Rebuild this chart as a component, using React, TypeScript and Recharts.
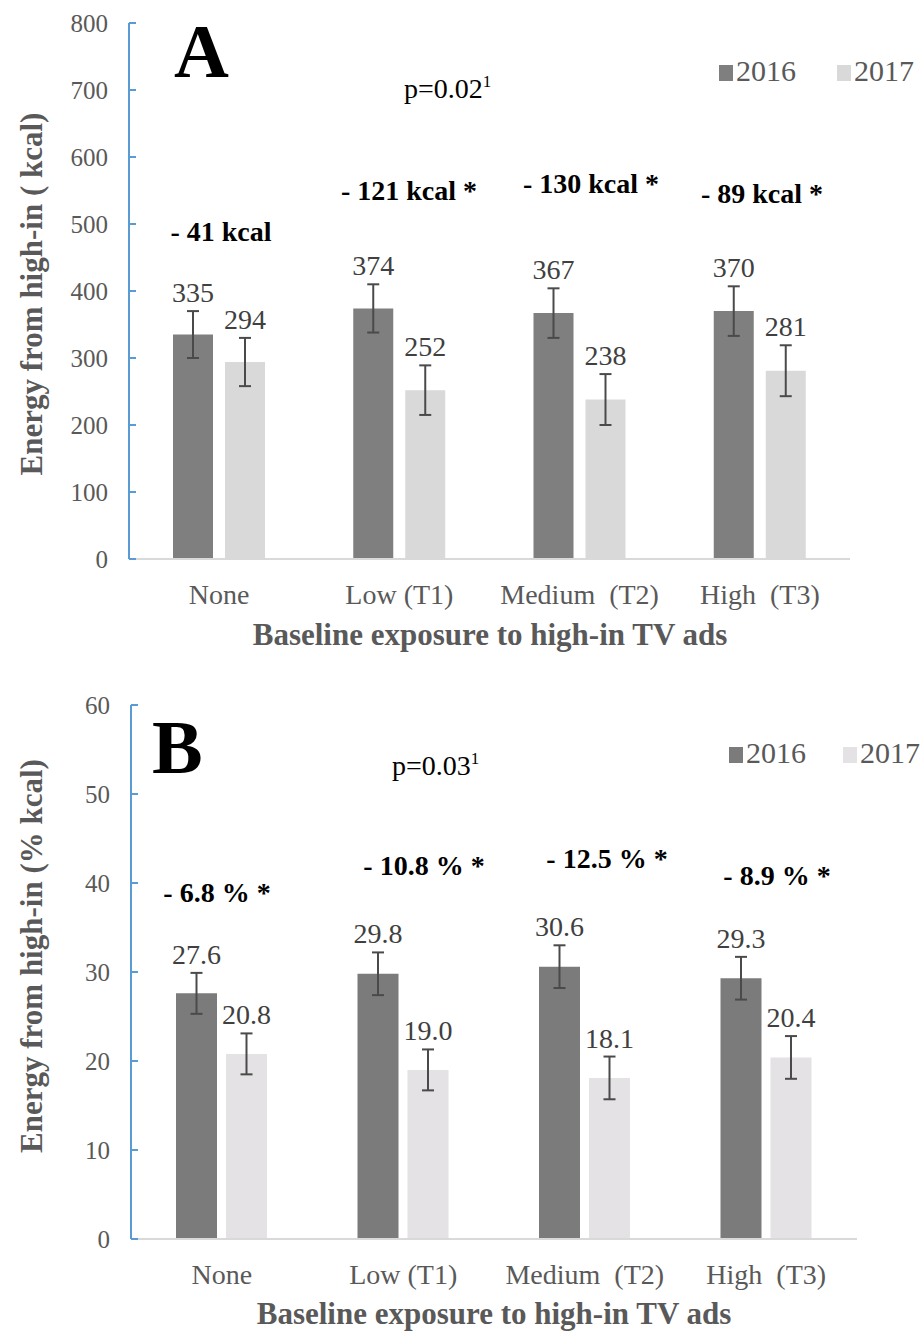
import React from 'react';
import { BarChart, Bar, XAxis, YAxis, ErrorBar, LabelList } from 'recharts';

// categories on the x axis (double spaces are in the original labels)
const categories = ['None', 'Low (T1)', 'Medium  (T2)', 'High  (T3)'];

// panel A: energy from high-in foods (kcal)
const kcal2016 = [335, 374, 367, 370];
const kcal2017 = [294, 252, 238, 281];
const kcalErr2016 = [35, 36, 37, 37];
const kcalErr2017 = [36, 37, 38, 38];
const kcalTicks = [0, 100, 200, 300, 400, 500, 600, 700, 800];
const kcalDiff = ['- 41 kcal', '- 121 kcal *', '- 130 kcal *', '- 89 kcal *'];

// panel B: energy from high-in foods (% kcal)
const pct2016 = [27.6, 29.8, 30.6, 29.3];
const pct2017 = [20.8, 19.0, 18.1, 20.4];
const pctErr2016 = [2.3, 2.4, 2.4, 2.4];
const pctErr2017 = [2.3, 2.3, 2.4, 2.4];
const pctTicks = [0, 10, 20, 30, 40, 50, 60];
const pctDiff = ['- 6.8 % *', '- 10.8 % *', '- 12.5 % *', '- 8.9 % *'];

const years = ['2016', '2017'];

const FONT = "'Liberation Serif', 'Times New Roman', serif";
const GRAY = '#595959';
const ERR = '#4a4a4a';
const AXIS_BLUE = '#5b9bd5';

const makeRows = (v16: number[], v17: number[], e16: number[], e17: number[]) =>
  categories.map((name, i) => ({ name, y2016: v16[i], y2017: v17[i], e2016: e16[i], e2017: e17[i] }));

const kcalRows = makeRows(kcal2016, kcal2017, kcalErr2016, kcalErr2017);
const pctRows = makeRows(pct2016, pct2017, pctErr2016, pctErr2017);

// value label sits just above the error bar cap
const valueLabel = (errs: number[], digits: number) => (props: any) => {
  const vb = props.viewBox && props.viewBox.width !== undefined ? props.viewBox : props;
  const { x, y, width, height } = vb;
  const value = Number(props.value);
  const idx = props.index ?? 0;
  const errPx = value ? (errs[idx] * Math.abs(height)) / value : 0;
  return (
    <text x={x + width / 2} y={y - errPx - 9} textAnchor="middle" fontSize={28} fill="#404040" fontFamily={FONT}>
      {value.toFixed(digits)}
    </text>
  );
};

const YTick = (props: any) => {
  const { x, y, payload } = props;
  const axisX = x + 21;
  return (
    <g>
      <line x1={axisX} x2={axisX + 7} y1={y} y2={y} stroke={AXIS_BLUE} strokeWidth={2} />
      <text x={x} y={y} dy="0.35em" textAnchor="end" fontSize={25} fill={GRAY} fontFamily={FONT}>
        {payload.value}
      </text>
    </g>
  );
};

const XTick = (props: any) => {
  const { x, y, payload } = props;
  return (
    <text x={x} y={y} textAnchor="middle" fontSize={28} fill={GRAY} fontFamily={FONT} style={{ whiteSpace: 'pre' }}>
      {payload.value}
    </text>
  );
};

interface PanelProps {
  rows: any[];
  top: number;
  height: number;
  margin: { top: number; right: number; left: number; bottom: number };
  yWidth: number;
  ticks: number[];
  errs16: number[];
  errs17: number[];
  digits: number;
  colors: string[];
  barSize: number;
  barGap: number;
}

const Panel: React.FC<PanelProps> = ({ rows, top, height, margin, yWidth, ticks, errs16, errs17, digits, colors, barSize, barGap }) => (
  <div style={{ position: 'absolute', left: 0, top }}>
    <BarChart width={922} height={height} data={rows} margin={margin} barSize={barSize} barGap={barGap}>
      <XAxis
        dataKey="name"
        axisLine={{ stroke: '#d9d9d9', strokeWidth: 2 }}
        tickLine={false}
        tickSize={0}
        tickMargin={45}
        height={50}
        tick={<XTick />}
        interval={0}
      />
      <YAxis
        width={yWidth}
        domain={[ticks[0], ticks[ticks.length - 1]]}
        ticks={ticks}
        interval={0}
        axisLine={{ stroke: AXIS_BLUE, strokeWidth: 2 }}
        tickLine={false}
        tickSize={0}
        tickMargin={21}
        tick={<YTick />}
      />
      <Bar dataKey="y2016" name={years[0]} fill={colors[0]} isAnimationActive={false}>
        <ErrorBar dataKey="e2016" width={6} strokeWidth={2} stroke={ERR} direction="y" isAnimationActive={false} />
        <LabelList dataKey="y2016" content={valueLabel(errs16, digits)} />
      </Bar>
      <Bar dataKey="y2017" name={years[1]} fill={colors[1]} isAnimationActive={false}>
        <ErrorBar dataKey="e2017" width={6} strokeWidth={2} stroke={ERR} direction="y" isAnimationActive={false} />
        <LabelList dataKey="y2017" content={valueLabel(errs17, digits)} />
      </Bar>
    </BarChart>
  </div>
);

// overlay text placement (centre x, baseline y)
const kcalDiffPos = [[221, 241], [409, 200], [591, 193], [762, 203]];
const pctDiffPos = [[217, 902], [424, 875], [607, 868], [777, 885]];

const Legend: React.FC<{ x: number[]; y: number; colors: string[] }> = ({ x, y, colors }) => (
  <g>
    {years.map((yr, i) => (
      <g key={yr}>
        <rect x={x[i]} y={y - 16} width={14} height={16} fill={colors[i]} />
        <text x={x[i] + 17} y={y} fontSize={30} fill={GRAY} fontFamily={FONT}>
          {yr}
        </text>
      </g>
    ))}
  </g>
);

export default function App() {
  const colorsA = ['#7f7f7f', '#d9d9d9'];
  const colorsB = ['#7b7b7b', '#e4e2e4'];
  return (
    <div style={{ position: 'absolute', left: 0, top: 0, width: 922, height: 1332, overflow: 'hidden', background: '#fff' }}>
      <Panel
        rows={kcalRows}
        top={0}
        height={680}
        margin={{ top: 23, right: 72, left: 0, bottom: 71 }}
        yWidth={129}
        ticks={kcalTicks}
        errs16={kcalErr2016}
        errs17={kcalErr2017}
        digits={0}
        colors={colorsA}
        barSize={40}
        barGap={12}
      />
      <Panel
        rows={pctRows}
        top={680}
        height={652}
        margin={{ top: 25, right: 65, left: 0, bottom: 43 }}
        yWidth={131}
        ticks={pctTicks}
        errs16={pctErr2016}
        errs17={pctErr2017}
        digits={1}
        colors={colorsB}
        barSize={41}
        barGap={9}
      />
      <svg width={922} height={1332} style={{ position: 'absolute', left: 0, top: 0, pointerEvents: 'none' }}>
        {/* panel A */}
        <text x={174} y={77} fontSize={76} fontWeight="bold" fill="#000" fontFamily={FONT}>A</text>
        <text x={404} y={98} fontSize={28} fill="#000" fontFamily={FONT}>
          p=0.02<tspan fontSize={17} dy={-11}>1</tspan>
        </text>
        {kcalDiff.map((t, i) => (
          <text key={t} x={kcalDiffPos[i][0]} y={kcalDiffPos[i][1]} textAnchor="middle" fontSize={28} fontWeight="bold" fill="#000" fontFamily={FONT}>
            {t}
          </text>
        ))}
        <Legend x={[719, 837]} y={81} colors={colorsA} />
        <text transform="translate(31,294) rotate(-90)" textAnchor="middle" dy="0.35em" fontSize={31} fontWeight="bold" fill={GRAY} fontFamily={FONT}>
          Energy from high-in ( kcal)
        </text>
        <text x={490} y={645} textAnchor="middle" fontSize={31} fontWeight="bold" fill={GRAY} fontFamily={FONT}>
          Baseline exposure to high-in TV ads
        </text>

        {/* panel B */}
        <text x={152} y={773} fontSize={76} fontWeight="bold" fill="#000" fontFamily={FONT}>B</text>
        <text x={392} y={775} fontSize={28} fill="#000" fontFamily={FONT}>
          p=0.03<tspan fontSize={17} dy={-11}>1</tspan>
        </text>
        {pctDiff.map((t, i) => (
          <text key={t} x={pctDiffPos[i][0]} y={pctDiffPos[i][1]} textAnchor="middle" fontSize={28} fontWeight="bold" fill="#000" fontFamily={FONT}>
            {t}
          </text>
        ))}
        <Legend x={[729, 843]} y={763} colors={colorsB} />
        <text transform="translate(31,956) rotate(-90)" textAnchor="middle" dy="0.35em" fontSize={31} fontWeight="bold" fill={GRAY} fontFamily={FONT}>
          Energy from high-in (% kcal)
        </text>
        <text x={494} y={1324} textAnchor="middle" fontSize={31} fontWeight="bold" fill={GRAY} fontFamily={FONT}>
          Baseline exposure to high-in TV ads
        </text>
      </svg>
    </div>
  );
}
